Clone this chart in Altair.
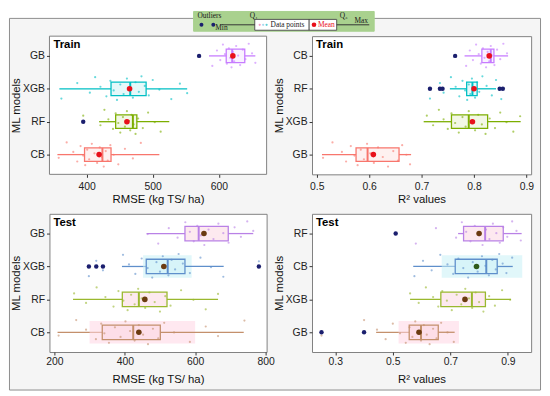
import altair as alt
import pandas as pd

# ---------------- DATA (models listed bottom -> top) ----------------
# Train RMSE
TRR_models = ["CB", "RF", "XGB", "GB"]
TRR_min = [356, 419, 359, 585]
TRR_q1 = [397, 444, 437, 611]
TRR_med = [424, 470, 466, 620]
TRR_q3 = [437, 476, 490, 639]
TRR_max = [510, 525, 552, 655]
TRR_mean = [419, 461, 465, 621]
TRR_out_model = ["RF", "GB"]
TRR_out_value = [395, 570]
TRR_pts_CB = [358, 370, 380, 386, 391, 395, 398, 401, 404, 408, 412, 416, 420, 423, 426, 429, 432, 436, 441, 448, 458, 470, 482]
TRR_pts_RF = [395, 421, 427, 433, 440, 444, 448, 451, 455, 458, 461, 464, 466, 468, 471, 474, 478, 485, 493, 503, 512]
TRR_pts_XGB = [362, 386, 405, 413, 421, 430, 436, 441, 446, 451, 456, 461, 466, 470, 474, 479, 483, 488, 494, 500, 510, 528, 541, 552]
TRR_pts_GB = [570, 590, 597, 602, 606, 609, 612, 615, 617, 619, 621, 623, 626, 629, 632, 636, 640, 645, 650, 655]

# Train R2
TR2_models = ["GB", "XGB", "RF", "CB"]
TR2_min = [0.510, 0.704, 0.754, 0.782]
TR2_q1 = [0.575, 0.757, 0.786, 0.815]
TR2_med = [0.597, 0.790, 0.797, 0.832]
TR2_q3 = [0.657, 0.826, 0.806, 0.838]
TR2_max = [0.680, 0.889, 0.842, 0.865]
TR2_mean = [0.608, 0.797, 0.800, 0.829]
TR2_out_model = ["CB", "RF", "RF", "RF", "RF", "RF"]
TR2_out_value = [0.764, 0.716, 0.735, 0.740, 0.849, 0.855]
TR2_pts_GB = [0.512, 0.53, 0.548, 0.556, 0.565, 0.572, 0.578, 0.584, 0.59, 0.596, 0.602, 0.609, 0.617, 0.626, 0.636, 0.646, 0.655, 0.663, 0.671, 0.678]
TR2_pts_XGB = [0.71, 0.722, 0.733, 0.742, 0.75, 0.757, 0.764, 0.771, 0.778, 0.784, 0.79, 0.796, 0.802, 0.808, 0.815, 0.822, 0.83, 0.84, 0.85, 0.862, 0.875, 0.888]
TR2_pts_RF = [0.716, 0.735, 0.742, 0.756, 0.765, 0.772, 0.778, 0.783, 0.787, 0.79, 0.793, 0.796, 0.799, 0.802, 0.806, 0.81, 0.816, 0.824, 0.834, 0.842, 0.848, 0.852]
TR2_pts_CB = [0.764, 0.785, 0.792, 0.798, 0.804, 0.809, 0.813, 0.817, 0.82, 0.823, 0.826, 0.829, 0.832, 0.835, 0.839, 0.844, 0.85, 0.856, 0.863]

# Test RMSE
TER_models = ["CB", "RF", "XGB", "GB"]
TER_min = [209, 253, 392, 462]
TER_q1 = [336, 393, 461, 571]
TER_med = [424, 440, 522, 610]
TER_q3 = [501, 520, 571, 694]
TER_max = [738, 665, 681, 765]
TER_mean = [440, 457, 511, 625]
TER_out_model = ["XGB", "XGB", "XGB", "XGB"]
TER_out_value = [298, 319, 338, 781]
TER_pts_CB = [212, 262, 290, 318, 333, 342, 355, 372, 388, 402, 415, 428, 440, 452, 466, 480, 495, 512, 540, 585, 630, 665, 740]
TER_pts_RF = [256, 290, 320, 345, 368, 382, 396, 408, 418, 428, 438, 448, 458, 470, 485, 500, 515, 530, 560, 595, 630, 665]
TER_pts_XGB = [298, 319, 338, 395, 412, 430, 448, 465, 478, 490, 500, 508, 516, 524, 533, 543, 553, 565, 585, 615, 645, 680, 781]
TER_pts_GB = [465, 495, 525, 550, 572, 585, 596, 606, 616, 626, 638, 652, 666, 680, 695, 712, 730, 748, 765]
TER_band_model = ["CB", "XGB"]
TER_band_lo = [300, 452]
TER_band_hi = [600, 590]

# Test R2
TE2_models = ["GB", "XGB", "CB", "RF"]
TE2_min = [0.442, 0.560, 0.571, 0.727]
TE2_q1 = [0.557, 0.667, 0.717, 0.746]
TE2_med = [0.598, 0.775, 0.825, 0.821]
TE2_q3 = [0.658, 0.822, 0.863, 0.884]
TE2_max = [0.715, 0.911, 0.917, 0.948]
TE2_mean = [0.591, 0.751, 0.791, 0.800]
TE2_out_model = ["GB", "GB", "RF"]
TE2_out_value = [0.252, 0.400, 0.510]
TE2_pts_GB = [0.252, 0.40, 0.445, 0.475, 0.50, 0.525, 0.545, 0.558, 0.568, 0.578, 0.588, 0.598, 0.608, 0.618, 0.628, 0.64, 0.652, 0.668, 0.69, 0.712]
TE2_pts_XGB = [0.56, 0.59, 0.615, 0.64, 0.658, 0.672, 0.688, 0.705, 0.722, 0.738, 0.752, 0.765, 0.776, 0.788, 0.80, 0.815, 0.835, 0.855, 0.88, 0.908]
TE2_pts_CB = [0.575, 0.605, 0.635, 0.665, 0.69, 0.71, 0.728, 0.745, 0.762, 0.778, 0.795, 0.81, 0.822, 0.834, 0.846, 0.858, 0.87, 0.882, 0.895, 0.915]
TE2_pts_RF = [0.51, 0.58, 0.65, 0.72, 0.74, 0.755, 0.77, 0.785, 0.80, 0.812, 0.824, 0.836, 0.848, 0.86, 0.872, 0.884, 0.898, 0.915, 0.93, 0.945]
TE2_band_model = ["GB", "CB"]
TE2_band_lo = [0.52, 0.67]
TE2_band_hi = [0.73, 0.95]

# ---------------- STYLE ----------------
TRAIN_COLS = ["#F8766D", "#7CAE00", "#00BFC4", "#C77CFF"]
TEST_COLS = ["#C4906C", "#9AB82E", "#5F8FCB", "#B981E6"]
TRAIN_FILL = TRAIN_COLS
TRAIN_FILL_OP = 0.1
TEST_FILL = ["#FBD3E0", "#FBD3E0", "#CDF2F7", "#FBD3E0"]
TEST_FILL_OP = 0.5
TRAIN_MEAN = ["#E8101A"] * 4
TEST_MEAN = ["#6B3A10", "#6B3A10", "#6B3A10", "#6B3A10"]
TE2_MEAN = ["#6B3A10", "#6B3A10", "#2F5A1A", "#6B3A10"]
BAND_COLS = {"CB_ER": "#FFD6E4", "XGB_ER": "#C8F1F5", "GB_E2": "#FFD6E4", "CB_E2": "#C8F1F5"}
OUT_COL = "#1B1F6E"
FONT = "Liberation Sans"
SERIF = "Liberation Serif"

W_L, W_R, H = 220, 222, 140


def panel(models, vmin, q1, med, q3, vmax, mean, out_m, out_v, pts, colors,
          fills, fill_op, mean_cols, domain, ticks, fmt, xtitle, tag, w, half,
          lab_pad, title_pad, bands=None, pre=None, post=None):
    n = len(models)
    pos = {m: i + 1 for i, m in enumerate(models)}
    st = pd.DataFrame({"model": models, "pos": list(range(1, n + 1)),
                       "vmin": vmin, "q1": q1, "med": med, "q3": q3,
                       "vmax": vmax, "mean": mean, "col": colors,
                       "fcol": fills, "mcol": mean_cols})
    st["lo"] = st["pos"] - half
    st["hi"] = st["pos"] + half
    rows = []
    for m, vals in pts.items():
        p = pos[m]
        for k, v in enumerate(vals):
            off = ((k * 0.6180339 + 0.37 * p) % 1.0 - 0.5) * 0.76
            rows.append({"v": v, "y": p + off, "col": colors[p - 1]})
    pdf = pd.DataFrame(rows)
    odf = pd.DataFrame({"v": out_v, "y": [pos[m] for m in out_m]})

    xs = alt.Scale(domain=domain, nice=False, zero=False)
    ys = alt.Scale(domain=[0.4, n + 0.6], nice=False, zero=False)
    lab = "[" + ",".join("'%s'" % m for m in models) + "][datum.value - 1]"
    xax = alt.Axis(values=ticks, format=fmt, labelPadding=lab_pad,
                   titlePadding=title_pad, zindex=1)
    yax = alt.Axis(values=list(range(1, n + 1)), labelExpr=lab,
                   titlePadding=1, labelPadding=2, zindex=1)

    layers = []
    if pre is not None:
        layers += pre
    base = alt.Chart(st)
    first = base.mark_rule(strokeWidth=1.3).encode(
        x=alt.X("vmin:Q", scale=xs, axis=xax, title=xtitle),
        x2="q1:Q",
        y=alt.Y("pos:Q", scale=ys, axis=yax, title="ML models"),
        color=alt.Color("col:N", scale=None))
    layers.append(first)
    if bands is not None:
        bm, blo, bhi, bc = bands
        bdf = pd.DataFrame({"lo": blo, "hi": bhi, "col": bc,
                            "y0": [pos[m] - 0.34 for m in bm],
                            "y1": [pos[m] + 0.34 for m in bm]})
        layers.append(alt.Chart(bdf).mark_rect(opacity=0.55).encode(
            x=alt.X("lo:Q", scale=xs), x2="hi:Q",
            y=alt.Y("y0:Q", scale=ys), y2="y1:Q",
            fill=alt.Fill("col:N", scale=None)))
    layers.append(base.mark_rule(strokeWidth=1.3).encode(
        x=alt.X("q3:Q", scale=xs), x2="vmax:Q",
        y=alt.Y("pos:Q", scale=ys), color=alt.Color("col:N", scale=None)))
    layers.append(base.mark_rect(strokeWidth=1.3, fillOpacity=fill_op).encode(
        x=alt.X("q1:Q", scale=xs), x2="q3:Q",
        y=alt.Y("lo:Q", scale=ys), y2="hi:Q",
        fill=alt.Fill("fcol:N", scale=None),
        stroke=alt.Stroke("col:N", scale=None)))
    layers.append(base.mark_rule(strokeWidth=2).encode(
        x=alt.X("med:Q", scale=xs),
        y=alt.Y("lo:Q", scale=ys), y2="hi:Q",
        color=alt.Color("col:N", scale=None)))
    layers.append(alt.Chart(pdf).mark_circle(size=5, opacity=0.6).encode(
        x=alt.X("v:Q", scale=xs), y=alt.Y("y:Q", scale=ys),
        color=alt.Color("col:N", scale=None)))
    layers.append(alt.Chart(odf).mark_circle(size=20, opacity=1, color=OUT_COL).encode(
        x=alt.X("v:Q", scale=xs), y=alt.Y("y:Q", scale=ys)))
    layers.append(base.mark_circle(size=32, opacity=1).encode(
        x=alt.X("mean:Q", scale=xs), y=alt.Y("pos:Q", scale=ys),
        color=alt.Color("mcol:N", scale=None)))
    layers.append(alt.Chart(pd.DataFrame({"t": [tag]})).mark_text(
        align="left", baseline="middle", fontSize=11.5, fontWeight="bold",
        font=FONT, color="black").encode(
        x=alt.value(4), y=alt.value(9), text="t:N"))
    if post is not None:
        layers += post
    return alt.layer(*layers).properties(width=w, height=H)


# --------- legend / frame decorations (pixel layout, relative to top-left plot) ---------
frame = alt.Chart(pd.DataFrame({"a": [0]})).mark_rect(
    fill="#F5F5F5", stroke="#8C8C8C", strokeWidth=1).encode(
    x=alt.value(-40.5), x2=alt.value(497.5), y=alt.value(-18), y2=alt.value(358.5))
plotbg = alt.Chart(pd.DataFrame({"a": [0]})).mark_rect(
    fill="white", stroke="#808080", strokeWidth=1).encode(
    x=alt.value(0), x2=alt.value(W_L), y=alt.value(0), y2=alt.value(H))

leg_rects = pd.DataFrame({"x": [146, 208], "x2": [329, 291], "y": [-25, -17], "y2": [-5, -6],
                          "f": ["#A9D18E", "white"], "s": ["#A9D18E", "#555555"]})
leg_lines = pd.DataFrame({"x": [174, 291, 263], "x2": [208, 324, 263], "y": [-11.5, -11.5, -17],
                          "y2": [-11.5, -11.5, -6]})
leg_dots = pd.DataFrame({"x": [154, 166, 213, 216.5, 220, 268], "y": [-11.5] * 6,
                         "c": [OUT_COL, OUT_COL, "#F49AC2", "#A8D8F0", "#5CCFD4", "#E8101A"],
                         "s": [16, 16, 5, 5, 5, 22]})
leg_text = pd.DataFrame({"x": [150, 168, 203, 294, 309, 224, 272],
                         "y": [-20, -8, -20, -20, -15, -11.5, -11.5],
                         "t": ["Outliers", "Min", "Q\u2081", "Q\u2083", "Max", "Data points", "Mean"],
                         "c": ["#1A1A1A", "#1A1A1A", "#1A1A1A", "#1A1A1A", "#1A1A1A", "#1A1A1A", "#E8101A"]})

legend_layers = [
    alt.Chart(leg_rects).mark_rect(strokeWidth=1).encode(
        x=alt.X("x:Q", scale=None), x2="x2:Q", y=alt.Y("y:Q", scale=None), y2="y2:Q",
        fill=alt.Fill("f:N", scale=None), stroke=alt.Stroke("s:N", scale=None)),
    alt.Chart(leg_lines).mark_rule(color="#333333", strokeWidth=1).encode(
        x=alt.X("x:Q", scale=None), x2="x2:Q", y=alt.Y("y:Q", scale=None), y2="y2:Q"),
    alt.Chart(leg_dots).mark_circle(opacity=1).encode(
        x=alt.X("x:Q", scale=None), y=alt.Y("y:Q", scale=None),
        color=alt.Color("c:N", scale=None), size=alt.Size("s:Q", scale=None)),
    alt.Chart(leg_text).mark_text(align="left", baseline="middle", font=SERIF, fontSize=7.5).encode(
        x=alt.X("x:Q", scale=None), y=alt.Y("y:Q", scale=None), text="t:N",
        color=alt.Color("c:N", scale=None)),
]

tl = panel(TRR_models, TRR_min, TRR_q1, TRR_med, TRR_q3, TRR_max, TRR_mean,
           TRR_out_model, TRR_out_value,
           {"CB": TRR_pts_CB, "RF": TRR_pts_RF, "XGB": TRR_pts_XGB, "GB": TRR_pts_GB},
           TRAIN_COLS, TRAIN_FILL, TRAIN_FILL_OP, TRAIN_MEAN, [344, 672], [400, 500, 600], "d",
           "RMSE (kg TS/ ha)", "Train", W_L, 0.205, 4, 2,
           pre=[frame, plotbg], post=legend_layers)
tr = panel(TR2_models, TR2_min, TR2_q1, TR2_med, TR2_q3, TR2_max, TR2_mean,
           TR2_out_model, TR2_out_value,
           {"GB": TR2_pts_GB, "XGB": TR2_pts_XGB, "RF": TR2_pts_RF, "CB": TR2_pts_CB},
           TRAIN_COLS, TRAIN_FILL, TRAIN_FILL_OP, TRAIN_MEAN, [0.491, 0.909],
           [0.5, 0.6, 0.7, 0.8, 0.9], ".1f",
           "R\u00b2 values", "Train", W_R, 0.205, 4, 2)
bl = panel(TER_models, TER_min, TER_q1, TER_med, TER_q3, TER_max, TER_mean,
           TER_out_model, TER_out_value,
           {"CB": TER_pts_CB, "RF": TER_pts_RF, "XGB": TER_pts_XGB, "GB": TER_pts_GB},
           TEST_COLS, TEST_FILL, TEST_FILL_OP, TEST_MEAN, [186, 803],
           [200, 300, 400, 500, 600, 700, 800], "d",
           "RMSE (kg TS/ ha)", "Test", W_L, 0.22, 2, 6,
           bands=(TER_band_model, TER_band_lo, TER_band_hi,
                  [BAND_COLS["CB_ER"], BAND_COLS["XGB_ER"]]))
br = panel(TE2_models, TE2_min, TE2_q1, TE2_med, TE2_q3, TE2_max, TE2_mean,
           TE2_out_model, TE2_out_value,
           {"GB": TE2_pts_GB, "XGB": TE2_pts_XGB, "CB": TE2_pts_CB, "RF": TE2_pts_RF},
           TEST_COLS, TEST_FILL, TEST_FILL_OP, TE2_MEAN, [0.219, 0.981],
           [0.3, 0.4, 0.5, 0.6, 0.7, 0.8, 0.9], ".1f",
           "R\u00b2 values", "Test", W_R, 0.22, 2, 6,
           bands=(TE2_band_model, TE2_band_lo, TE2_band_hi,
                  [BAND_COLS["GB_E2"], BAND_COLS["CB_E2"]]))

chart = alt.concat(tl, tr, bl, br, columns=2, spacing={"row": 40, "column": 46}).properties(
    bounds="flush",
    padding=0,
    background="white",
).configure_view(stroke="#808080", strokeWidth=1, fill="white").configure_axis(
    grid=False, domain=False, labelFont=FONT, titleFont=FONT, labelFontSize=10.5,
    titleFontSize=11.5, titleFontWeight="normal", labelColor="#222222",
    titleColor="#111111", tickColor="#333333", tickSize=3)

chart.save("out.html", embed_options={"renderer": "svg", "actions": False})
